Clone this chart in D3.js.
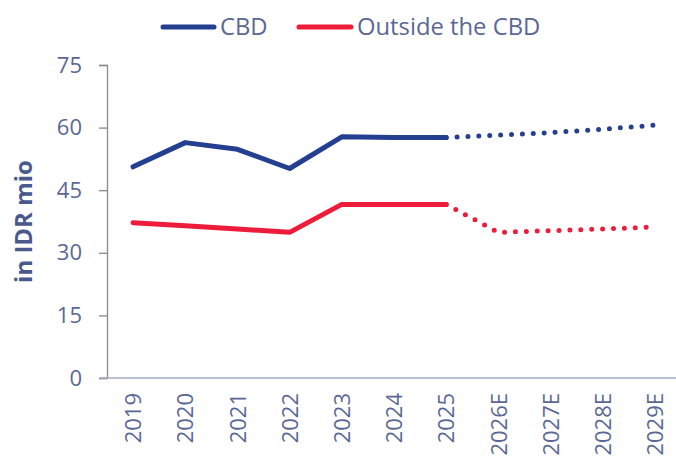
<!DOCTYPE html>
<html>
<head>
<meta charset="utf-8">
<script src="https://cdn.jsdelivr.net/npm/d3@7"></script>
<style>
  html, body { margin: 0; padding: 0; background: #fff; }
  svg { display: block; font-family: "Open Sans", sans-serif; }
</style>
</head>
<body>
<svg id="chart" width="676" height="461"></svg>
<script>
// Years on the x axis; "E" marks estimates
const years = ["2019", "2020", "2021", "2022", "2023", "2024", "2025", "2026E", "2027E", "2028E", "2029E"];
// Rental levels, in IDR mio
const cbdValues = [50.6, 56.4, 54.8, 50.2, 57.8, 57.6, 57.6, 58.2, 58.8, 59.6, 60.6];
const outsideValues = [37.2, 36.5, 35.7, 34.9, 41.6, 41.6, 41.6, 34.9, 35.3, 35.7, 36.2];
const yTicks = [0, 15, 30, 45, 60, 75];
const lastActual = "2025";

const textColor = "#5b6895";
const cbdColor = "#243f8f";
const outsideColor = "#ed1c3a";

const svg = d3.select("#chart");

const x = d3.scalePoint().domain(years).range([107, 681]).padding(0.5);
const y = d3.scaleLinear().domain([0, 75]).range([378, 65]);

// Y axis
const yAxis = svg.append("g")
  .attr("transform", "translate(107,0)")
  .call(d3.axisLeft(y).tickValues(yTicks).tickSize(8).tickPadding(17));
yAxis.select(".domain").attr("stroke", "#8a8a8a").attr("stroke-width", 1.3);
yAxis.selectAll(".tick line").attr("stroke", "#8a8a8a").attr("stroke-width", 1.3);
yAxis.selectAll(".tick text")
  .attr("fill", textColor)
  .style("font-size", "22px")
  .style("font-family", "'Open Sans', sans-serif");

// X axis
const xAxis = svg.append("g")
  .attr("transform", "translate(0,378)")
  .call(d3.axisBottom(x).tickSize(0).tickPadding(0));
xAxis.select(".domain").remove();
svg.append("line")
  .attr("x1", 100).attr("x2", 676)
  .attr("y1", 378).attr("y2", 378)
  .attr("stroke", "#a3aac2").attr("stroke-width", 1.3);
xAxis.selectAll(".tick text")
  .attr("fill", textColor)
  .style("font-size", "22px")
  .style("font-family", "'Open Sans', sans-serif")
  .attr("transform", "rotate(-90)")
  .attr("text-anchor", "end")
  .attr("x", -15)
  .attr("y", 0)
  .attr("dy", "0.35em");

// Y axis title
svg.append("text")
  .attr("transform", `translate(32,${(158 + 285) / 2}) rotate(-90)`)
  .attr("text-anchor", "middle")
  .attr("fill", "#4a5a8c")
  .style("font-size", "24px")
  .style("font-weight", "bold")
  .text("in IDR mio");

// Series
const series = [
  { name: "CBD", values: cbdValues, color: cbdColor },
  { name: "Outside the CBD", values: outsideValues, color: outsideColor }
];
const line = d3.line().x(d => x(d.year)).y(d => y(d.value));
const cut = years.indexOf(lastActual);

series.forEach(s => {
  const pts = years.map((yr, i) => ({ year: yr, value: s.values[i] }));
  svg.append("path")
    .datum(pts.slice(0, cut + 1))
    .attr("d", line)
    .attr("fill", "none")
    .attr("stroke", s.color)
    .attr("stroke-width", 5)
    .attr("stroke-linecap", "round")
    .attr("stroke-linejoin", "round");
  svg.append("path")
    .datum(pts.slice(cut))
    .attr("d", line)
    .attr("fill", "none")
    .attr("stroke", s.color)
    .attr("stroke-width", 5)
    .attr("stroke-linecap", "round")
    .attr("stroke-dasharray", "0 10.9")
    .attr("stroke-dashoffset", -10.9);
});

// Legend
const legend = svg.append("g");
const legendItems = [
  { name: "CBD", color: cbdColor, x1: 163, x2: 214, tx: 220 },
  { name: "Outside the CBD", color: outsideColor, x1: 299, x2: 351, tx: 357 }
];
legendItems.forEach(it => {
  legend.append("line")
    .attr("x1", it.x1).attr("x2", it.x2)
    .attr("y1", 27).attr("y2", 27)
    .attr("stroke", it.color).attr("stroke-width", 5)
    .attr("stroke-linecap", "round");
  legend.append("text")
    .attr("x", it.tx).attr("y", 27)
    .attr("dy", "0.35em")
    .attr("fill", textColor)
    .style("font-size", "23.8px")
    .text(it.name);
});
</script>
</body>
</html>
